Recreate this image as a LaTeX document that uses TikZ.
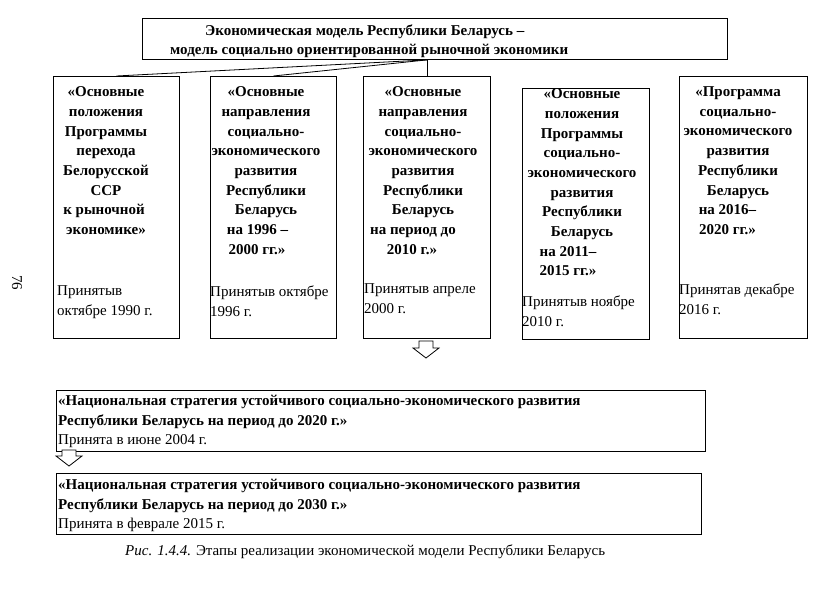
\documentclass[tikz,border=0pt]{standalone}
\usepackage{fontspec}
\setmainfont{Liberation Serif}
\newcommand{\lsh}[1]{\hspace*{#1}\mbox{}}
\begin{document}
\begin{tikzpicture}[x=1pt,y=-1pt,
  box/.style={draw, line width=0.9pt, inner sep=0pt, anchor=north west},
  ttl/.style={font=\fontsize{15}{19.7}\selectfont\bfseries, align=center, anchor=north, inner sep=0pt},
  dat/.style={font=\fontsize{15}{19.7}\selectfont, align=left, anchor=north west, inner sep=0pt},
  ln/.style={font=\fontsize{15}{19.7}\selectfont, anchor=base west, inner sep=0pt},
  lnb/.style={font=\fontsize{15}{19.7}\selectfont\bfseries, anchor=base west, inner sep=0pt},
  conn/.style={line width=0.8pt},
  barrow/.style={draw, line width=0.8pt, fill=white}]
\useasboundingbox (0,0) rectangle (816,609);

% top box
\node[box, minimum width=585pt, minimum height=41pt] (top) at (142,18) {};
\node[lnb] (top1) at (205,36) {Экономическая модель Республики Беларусь –};
\node[lnb] (top2) at (170,55) {модель социально ориентированной рыночной экономики};

% five boxes
\node[box, minimum width=126pt, minimum height=262pt] (b1) at (53,76) {};
\node[box, minimum width=126pt, minimum height=262pt] (b2) at (210,76) {};
\node[box, minimum width=127pt, minimum height=262pt] (b3) at (363,76) {};
\node[box, minimum width=127pt, minimum height=251pt] (b4) at (522,88) {};
\node[box, minimum width=128pt, minimum height=262pt] (b5) at (679,76) {};

% connectors
\coordinate (hub) at (b3.north |- top.south);
\draw[conn] (hub) -- (b1.north);
\draw[conn] (hub) -- (b2.north);
\draw[conn] (hub) -- (b3.north);

% box texts
\node[ttl] (b1t) at (106,86.5) {«Основные\\положения\\Программы\\перехода\\Белорусской\\ССР\\к рыночной\lsh{4pt}\\экономике»};
\node[dat] (b1d) at (57,285.5) {Принятыв\\октябре 1990 г.};

\node[ttl] (b2t) at (266,86.5) {«Основные\\направления\\социально-\\экономического\\развития\\Республики\\Беларусь\\на 1996 –\lsh{17pt}\\2000 гг.»\lsh{18pt}};
\node[dat] (b2d) at (210,285.5) {Принятыв октябре\\1996 г.};

\node[ttl] (b3t) at (423,86.5) {«Основные\\направления\\социально-\\экономического\\развития\\Республики\\Беларусь\\на период до\lsh{20pt}\\2010 г.»\lsh{22pt}};
\node[dat] (b3d) at (364,283.5) {Принятыв апреле\\2000 г.};

\node[ttl] (b4t) at (582,88.5) {«Основные\\положения\\Программы\\социально-\\экономического\\развития\\Республики\\Беларусь\\на 2011–\lsh{28pt}\\2015 гг.»\lsh{28pt}};
\node[dat] (b4d) at (522,295.5) {Принятыв ноябре\\2010 г.};

\node[ttl] (b5t) at (738,86.5) {«Программа\\социально-\\экономического\\развития\\Республики\\Беларусь\\на 2016–\lsh{21pt}\\2020 гг.»\lsh{21pt}};
\node[dat] (b5d) at (679,283.5) {Принятав декабре\\2016 г.};

% block arrow 1
\draw[barrow] (419,341) -- (433,341) -- (433,348) -- (439,348) -- (426,358) -- (413,348) -- (419,348) -- cycle;

% strategy boxes
\node[box, minimum width=649pt, minimum height=61pt] (s1) at (56,390) {};
\node[lnb] (s1a) at (58,405) {«Национальная стратегия устойчивого социально-экономического развития};
\node[lnb] (s1b) at (58,425) {Республики Беларусь на период до 2020 г.»};
\node[ln] (s1c) at (58,444) {Принята в июне 2004 г.};

% block arrow 2
\draw[barrow] (62,450) -- (76,450) -- (76,456) -- (82,456) -- (69,466) -- (56,456) -- (62,456) -- cycle;

\node[box, minimum width=645pt, minimum height=61pt] (s2) at (56,473) {};
\node[lnb] (s2a) at (58,489) {«Национальная стратегия устойчивого социально-экономического развития};
\node[lnb] (s2b) at (58,509) {Республики Беларусь на период до 2030 г.»};
\node[ln] (s2c) at (58,528) {Принята в феврале 2015 г.};

% caption
\node[ln] (cap) at (125,555) {\textit{Рис. 1.4.4.} Этапы реализации экономической модели Республики Беларусь};

% page number
\node[font=\fontsize{15}{16}\selectfont, rotate=-90, inner sep=0pt] (pg) at (17,283) {76};
\end{tikzpicture}
\end{document}
